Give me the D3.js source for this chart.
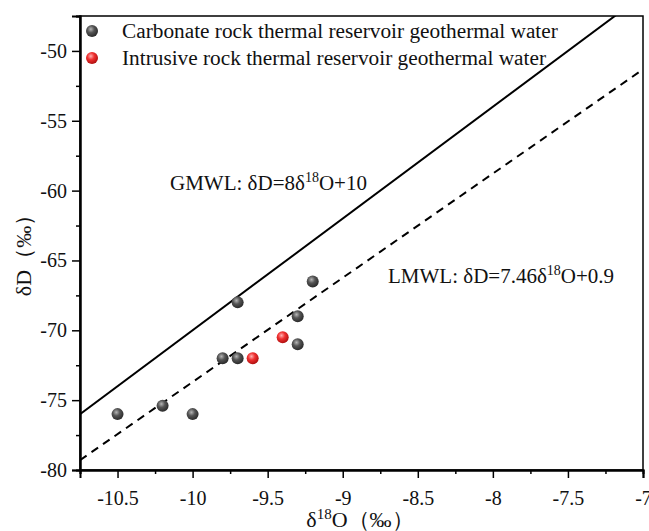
<!DOCTYPE html>
<html>
<head>
<meta charset="utf-8">
<script src="https://cdn.jsdelivr.net/npm/d3@7"></script>
<style>
  body { margin: 0; background: #fff; }
  svg text { font-family: "Liberation Serif", "Times New Roman", serif; fill: #111; }
</style>
</head>
<body>
<svg width="649" height="531"></svg>
<script>
// data
const carbonateX = [-10.5, -10.2, -10.0, -9.8, -9.7, -9.7, -9.3, -9.3, -9.2];
const carbonateY = [-76.0, -75.4, -76.0, -72.0, -72.0, -68.0, -69.0, -71.0, -66.5];
const intrusiveX = [-9.6, -9.4];
const intrusiveY = [-72.0, -70.5];
const xTicks = [-10.5, -10, -9.5, -9, -8.5, -8, -7.5, -7];
const yTicks = [-80, -75, -70, -65, -60, -55, -50];
const gmwl = { slope: 8, intercept: 10 };
const lmwl = { slope: 7.46, intercept: 0.9 };

const svg = d3.select("svg");
const margin = { top: 16, right: 6, bottom: 61, left: 80 };
const width = 649, height = 531;

const x = d3.scaleLinear().domain([-10.75, -7]).range([margin.left, width - margin.right]);
const y = d3.scaleLinear().domain([-80, -47.5]).range([height - margin.bottom, margin.top]);

// gradients for the shaded balls
const defs = svg.append("defs");
function ball(id, light, mid, dark) {
  const g = defs.append("radialGradient").attr("id", id)
    .attr("cx", "40%").attr("cy", "35%").attr("r", "65%");
  g.append("stop").attr("offset", "0%").attr("stop-color", light);
  g.append("stop").attr("offset", "45%").attr("stop-color", mid);
  g.append("stop").attr("offset", "100%").attr("stop-color", dark);
}
ball("gray", "#b5b5b5", "#555", "#2a2a2a");
ball("red", "#ffb0b0", "#f03030", "#b01010");

svg.append("clipPath").attr("id", "plot")
  .append("rect")
  .attr("x", margin.left).attr("y", margin.top)
  .attr("width", width - margin.right - margin.left)
  .attr("height", height - margin.bottom - margin.top);

// --- meteoric water lines ---
const lines = svg.append("g").attr("clip-path", "url(#plot)");
[[gmwl, null], [lmwl, "8,6"]].forEach(([l, dash]) => {
  const xs = x.domain();
  lines.append("line")
    .attr("x1", x(xs[0])).attr("y1", y(l.slope * xs[0] + l.intercept))
    .attr("x2", x(xs[1])).attr("y2", y(l.slope * xs[1] + l.intercept))
    .attr("stroke", "#000").attr("stroke-width", 2)
    .attr("stroke-dasharray", dash);
});

// --- frame ---
svg.append("rect")
  .attr("x", margin.left).attr("y", margin.top)
  .attr("width", width - margin.right - margin.left)
  .attr("height", height - margin.bottom - margin.top)
  .attr("fill", "none").attr("stroke", "#000").attr("stroke-width", 1.5);

// --- axes ---
const fmt = d => String(d);
const xAxis = svg.append("g")
  .attr("transform", `translate(0,${height - margin.bottom})`)
  .call(d3.axisBottom(x).tickValues(xTicks).tickSize(8).tickPadding(13).tickFormat(fmt));
xAxis.append("g").call(d3.axisBottom(x).tickValues(d3.range(-10.75, -7, 0.5)).tickSize(4).tickFormat(""));

const yAxis = svg.append("g")
  .attr("transform", `translate(${margin.left},0)`)
  .call(d3.axisLeft(y).tickValues(yTicks).tickSize(8).tickPadding(5).tickFormat(fmt));
yAxis.append("g").call(d3.axisLeft(y).tickValues(d3.range(-77.5, -47, 5)).tickSize(4).tickFormat(""));

[xAxis, yAxis].forEach(a => {
  a.selectAll(".domain").attr("stroke", "#000").attr("stroke-width", 2);
  a.selectAll("line").attr("stroke", "#000").attr("stroke-width", 1.5);
  a.selectAll("text").style("font-size", "20px").style("fill", "#111");
});

// --- points ---
const pts = svg.append("g");
pts.selectAll("circle.c")
  .data(d3.zip(carbonateX, carbonateY))
  .join("circle").attr("class", "c")
  .attr("cx", d => x(d[0])).attr("cy", d => y(d[1])).attr("r", 6)
  .attr("fill", "url(#gray)");
pts.selectAll("circle.i")
  .data(d3.zip(intrusiveX, intrusiveY))
  .join("circle").attr("class", "i")
  .attr("cx", d => x(d[0])).attr("cy", d => y(d[1])).attr("r", 6)
  .attr("fill", "url(#red)");

// --- legend ---
const legend = svg.append("g").attr("transform", "translate(92,31)");
const legendItems = [
  ["Carbonate rock thermal reservoir geothermal water", "url(#gray)"],
  ["Intrusive rock thermal reservoir geothermal water", "url(#red)"]
];
legendItems.forEach(([label, fill], i) => {
  const row = legend.append("g").attr("transform", `translate(0,${i * 27})`);
  row.append("circle").attr("r", 6).attr("fill", fill);
  row.append("text").attr("x", 30).attr("y", 7).style("font-size", "21.3px").text(label);
});

// --- line labels ---
function eqLabel(px, py, pre, post) {
  const t = svg.append("text").attr("x", px).attr("y", py).style("font-size", "21px");
  t.append("tspan").text(pre);
  t.append("tspan").attr("dy", -8).style("font-size", "14px").text("18");
  t.append("tspan").attr("dy", 8).text(post);
}
eqLabel(170, 190, "GMWL: δD=8δ", "O+10");
eqLabel(388, 283, "LMWL: δD=7.46δ", "O+0.9");

// --- axis titles ---
const xt = svg.append("text")
  .attr("x", 360).attr("y", 527).attr("text-anchor", "middle").style("font-size", "22px");
xt.append("tspan").text("δ");
xt.append("tspan").attr("dy", -8).style("font-size", "15px").text("18");
xt.append("tspan").attr("dy", 8).text("O（‰）");

svg.append("text")
  .attr("transform", "translate(31,250) rotate(-90)")
  .attr("text-anchor", "middle").style("font-size", "22px")
  .text("δD（‰）");
</script>
</body>
</html>
